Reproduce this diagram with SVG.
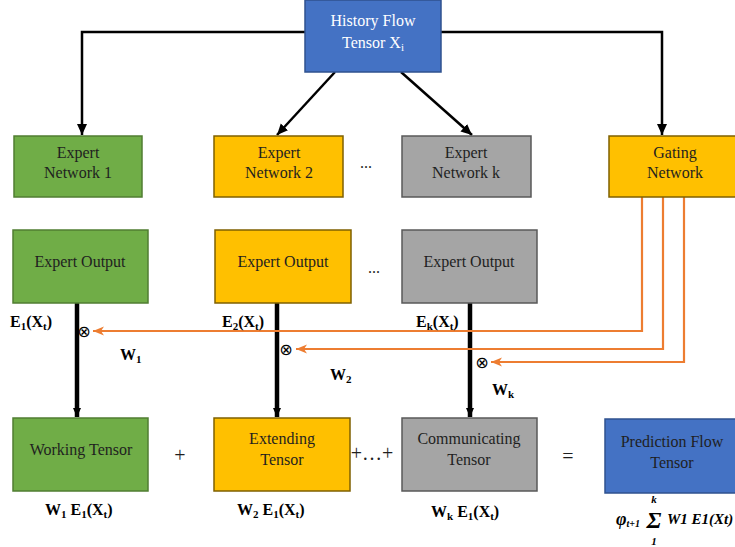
<svg xmlns="http://www.w3.org/2000/svg" width="735" height="547" viewBox="0 0 735 547">
<defs>
<style>
.green{fill:#70AD47;stroke:#507E32;stroke-width:1.5}
.yellow{fill:#FFC000;stroke:#7F6000;stroke-width:1.5}
.gray{fill:#A5A5A5;stroke:#595959;stroke-width:1.5}
.blue{fill:#4472C4;stroke:#2F528F;stroke-width:1.5}
.t{font-family:"Liberation Serif","Times New Roman",serif;font-size:16px;fill:#1f1f1f;text-anchor:middle}
.w{fill:#FFFFFF}
.b{font-family:"Liberation Serif","Times New Roman",serif;font-size:16px;font-weight:bold;fill:#000}
.op{font-family:"Liberation Serif","Times New Roman",serif;font-size:20px;fill:#1f1f1f;text-anchor:middle}
.blk{stroke:#000;stroke-width:2.5;fill:none}
.thick{stroke:#000;stroke-width:4.5;fill:none}
.org{stroke:#ED7D31;stroke-width:2.2;fill:none}
.otimes{font-family:"DejaVu Sans",sans-serif;font-size:16px;fill:#000;text-anchor:middle}
.f{font-family:"Liberation Serif","DejaVu Serif",serif;font-weight:bold;font-style:italic;fill:#000}
</style>
<marker id="ah" markerUnits="userSpaceOnUse" markerWidth="12" markerHeight="12" viewBox="0 0 12 12" refX="11" refY="6" orient="auto">
<path d="M0,1 L11,6 L0,11 z" fill="#000"/>
</marker>
<marker id="ahs" markerUnits="userSpaceOnUse" markerWidth="10" markerHeight="10" viewBox="0 0 10 10" refX="9" refY="5" orient="auto">
<path d="M0,1 L9,5 L0,9 z" fill="#000"/>
</marker>
<marker id="oh" markerUnits="userSpaceOnUse" markerWidth="12" markerHeight="12" viewBox="0 0 12 12" refX="11" refY="6" orient="auto">
<path d="M0,1.5 L11,6 L0,10.5 L3,6 z" fill="#ED7D31"/>
</marker>
</defs>
<rect width="735" height="547" fill="#FFFFFF"/>

<g id="connectors">
<path class="blk" d="M305,32 H82 V135" marker-end="url(#ah)"/>
<path class="blk" d="M441,32 H662 V135" marker-end="url(#ah)"/>
<line class="blk" x1="335" y1="72" x2="277" y2="135" marker-end="url(#ah)"/>
<line class="blk" x1="401" y1="72" x2="472" y2="135" marker-end="url(#ah)"/>
<line class="thick" x1="77" y1="303" x2="77" y2="417" marker-end="url(#ahs)"/>
<line class="thick" x1="277" y1="303" x2="277" y2="417" marker-end="url(#ahs)"/>
<line class="thick" x1="470" y1="303" x2="470" y2="417" marker-end="url(#ahs)"/>
<path class="org" d="M642,197 V331 H93" marker-end="url(#oh)"/>
<path class="org" d="M663,197 V349 H296" marker-end="url(#oh)"/>
<path class="org" d="M684,197 V362 H491" marker-end="url(#oh)"/>
</g>

<g id="history">
<rect class="blue" x="305" y="0" width="136" height="72"/>
<text class="t w" x="373" y="26">History Flow</text>
<text class="t w" x="373" y="48">Tensor X<tspan font-size="11" dy="3">i</tspan></text>
</g>

<g id="expert-network-1">
<rect class="green" x="14" y="136" width="128" height="61"/>
<text class="t" x="78" y="158">Expert</text>
<text class="t" x="78" y="178">Network 1</text>
</g>
<g id="expert-network-2">
<rect class="yellow" x="214" y="136" width="129" height="61"/>
<text class="t" x="279" y="158">Expert</text>
<text class="t" x="279" y="178">Network 2</text>
</g>
<text id="dots-1" class="t" x="366" y="168" font-size="12">...</text>
<g id="expert-network-k">
<rect class="gray" x="402" y="136" width="129" height="61"/>
<text class="t" x="466" y="158">Expert</text>
<text class="t" x="466" y="178">Network k</text>
</g>
<g id="gating-network">
<rect class="yellow" x="609" y="136" width="132" height="61"/>
<text class="t" x="675" y="158">Gating</text>
<text class="t" x="675" y="178">Network</text>
</g>

<g id="expert-output-1">
<rect class="green" x="13" y="230" width="135" height="73"/>
<text class="t" x="80" y="267">Expert Output</text>
</g>
<g id="expert-output-2">
<rect class="yellow" x="215" y="230" width="136" height="73"/>
<text class="t" x="283" y="267">Expert Output</text>
</g>
<text id="dots-2" class="t" x="374" y="273" font-size="12">...</text>
<g id="expert-output-k">
<rect class="gray" x="402" y="230" width="135" height="73"/>
<text class="t" x="469" y="267">Expert Output</text>
</g>

<g id="gate-labels">
<text class="b" x="10" y="327">E<tspan font-size="11" dy="3">1</tspan><tspan dy="-3">(X</tspan><tspan font-size="11" dy="3">t</tspan><tspan dy="-3">)</tspan></text>
<text class="otimes" x="84" y="337">⊗</text>
<text class="b" x="120" y="360">W<tspan font-size="11" dy="3">1</tspan></text>
<text class="b" x="222" y="327">E<tspan font-size="11" dy="3">2</tspan><tspan dy="-3">(X</tspan><tspan font-size="11" dy="3">t</tspan><tspan dy="-3">)</tspan></text>
<text class="otimes" x="286" y="355">⊗</text>
<text class="b" x="330" y="380">W<tspan font-size="11" dy="3">2</tspan></text>
<text class="b" x="416" y="327">E<tspan font-size="11" dy="3">k</tspan><tspan dy="-3">(X</tspan><tspan font-size="11" dy="3">t</tspan><tspan dy="-3">)</tspan></text>
<text class="otimes" x="482" y="368">⊗</text>
<text class="b" x="492" y="395">W<tspan font-size="11" dy="3">k</tspan></text>
</g>

<g id="working-tensor">
<rect class="green" x="13" y="418" width="135" height="73"/>
<text class="t" x="81" y="455">Working Tensor</text>
</g>
<text id="plus-1" class="op" x="180" y="462">+</text>
<g id="extending-tensor">
<rect class="yellow" x="214" y="418" width="136" height="73"/>
<text class="t" x="282" y="444">Extending</text>
<text class="t" x="282" y="465">Tensor</text>
</g>
<text id="plus-dots" class="op" x="372" y="460" font-size="19">+…+</text>
<g id="communicating-tensor">
<rect class="gray" x="402" y="418" width="135" height="73"/>
<text class="t" x="469" y="444">Communicating</text>
<text class="t" x="469" y="465">Tensor</text>
</g>
<text id="equals" class="op" x="568" y="463">=</text>
<g id="prediction-flow-tensor">
<rect class="blue" x="605" y="419" width="136" height="74"/>
<text class="t" x="672" y="447">Prediction Flow</text>
<text class="t" x="672" y="468">Tensor</text>
</g>

<g id="result-labels">
<text class="b" x="45" y="515">W<tspan font-size="11" dy="3">1</tspan><tspan dy="-3"> E</tspan><tspan font-size="11" dy="3">1</tspan><tspan dy="-3">(X</tspan><tspan font-size="11" dy="3">t</tspan><tspan dy="-3">)</tspan></text>
<text class="b" x="237" y="515">W<tspan font-size="11" dy="3">2</tspan><tspan dy="-3"> E</tspan><tspan font-size="11" dy="3">1</tspan><tspan dy="-3">(X</tspan><tspan font-size="11" dy="3">t</tspan><tspan dy="-3">)</tspan></text>
<text class="b" x="431" y="517">W<tspan font-size="11" dy="3">k</tspan><tspan dy="-3"> E</tspan><tspan font-size="11" dy="3">1</tspan><tspan dy="-3">(X</tspan><tspan font-size="11" dy="3">t</tspan><tspan dy="-3">)</tspan></text>
<text class="f" x="616" y="525" font-size="18">φ<tspan font-size="10" dy="2">t+1</tspan></text>
<text class="f" x="654" y="528" font-size="24" font-style="normal" text-anchor="middle">Σ</text>
<text class="f" x="654" y="503" font-size="11" text-anchor="middle">k</text>
<text class="f" x="654" y="545" font-size="11" font-style="normal" text-anchor="middle">1</text>
<text class="f" x="667" y="524" font-size="15">W1 E1(Xt)</text>
</g>
</svg>
